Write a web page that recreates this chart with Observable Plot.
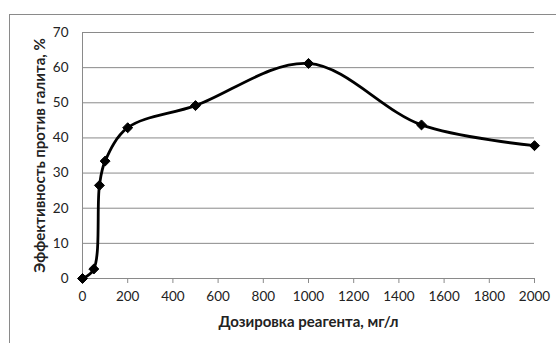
<!DOCTYPE html>
<html>
<head>
<meta charset="utf-8">
<script src="https://cdn.jsdelivr.net/npm/d3@7"></script>
<script src="https://cdn.jsdelivr.net/npm/@observablehq/plot@0.6"></script>
<style>
  html, body { margin: 0; padding: 0; background: #fff; }
  #wrap { position: relative; width: 556px; height: 343px; overflow: hidden; }
  #box { position: absolute; left: 9px; top: 14px; width: 600px; height: 400px; border: 1px solid #8a8a8a; box-sizing: border-box; }
  #chart { position: absolute; left: 0; top: 0; }
</style>
</head>
<body>
<div id="wrap"><div id="box"></div><div id="chart"></div></div>
<script>
const doses = [0, 50, 75, 100, 200, 500, 1000, 1500, 2000];
const efficiency = [0, 2.7, 26.5, 33.4, 42.9, 49.2, 61.2, 43.7, 37.8];
const xTicks = [0, 200, 400, 600, 800, 1000, 1200, 1400, 1600, 1800, 2000];
const yTicks = [0, 10, 20, 30, 40, 50, 60, 70];
const xTitle = "Дозировка реагента, мг/л";
const yTitle = "Эффективность против галита, %";

const data = doses.map((d, i) => ({dose: d, eff: efficiency[i]}));
const font = "Lato, 'Open Sans', sans-serif";

const chart = Plot.plot({
  width: 556,
  height: 343,
  marginLeft: 82,
  marginRight: 22,
  marginTop: 32,
  marginBottom: 65,
  style: {fontFamily: font, fontSize: "13.5px", color: "#222", background: "transparent"},
  x: {domain: [0, 2000], ticks: xTicks, label: null},
  y: {domain: [0, 70], ticks: yTicks, label: null},
  marks: [
    Plot.gridY(yTicks, {stroke: "#8a8a8a", strokeOpacity: 1, strokeWidth: 1}),
    Plot.ruleX([0], {stroke: "#8a8a8a", strokeWidth: 1}),
    Plot.axisX({ticks: xTicks, tickFormat: d => String(d), tickSize: 5, tickPadding: 8, stroke: "#8a8a8a", fill: "#222", fontSize: 13.5, label: null}),
    Plot.axisY({ticks: yTicks, tickFormat: d => String(d), tickSize: 0, tickPadding: 14, fill: "#222", fontSize: 13.5, label: null}),
    Plot.line(data, {x: "dose", y: "eff", curve: "catmull-rom", stroke: "black", strokeWidth: 2.8}),
    Plot.dot(data, {x: "dose", y: "eff", symbol: "diamond2", r: 4.5, fill: "black", stroke: "black", strokeWidth: 1}),
    Plot.text([xTitle], {frameAnchor: "bottom", dy: 48, fontWeight: "bold", fontSize: 15, fill: "#222", textAnchor: "middle"}),
    Plot.text([yTitle], {frameAnchor: "left", rotate: -90, dx: -42, fontWeight: "bold", fontSize: 15, fill: "#222", textAnchor: "middle"})
  ]
});
document.getElementById("chart").appendChild(chart);
</script>
</body>
</html>
